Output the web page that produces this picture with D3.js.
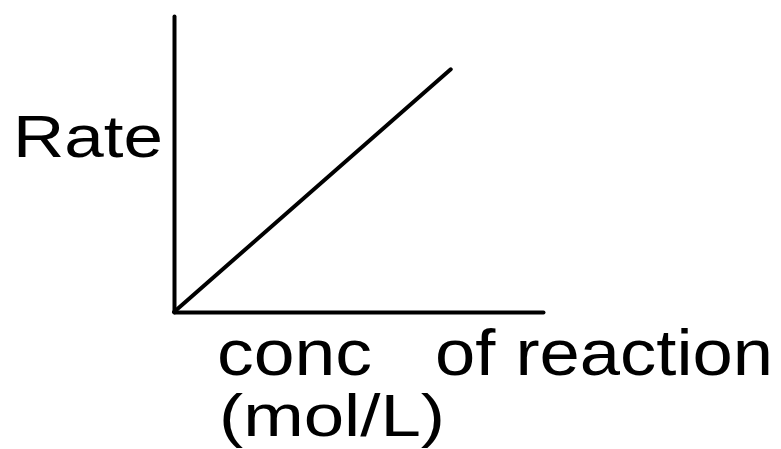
<!DOCTYPE html>
<html>
<head>
<meta charset="utf-8">
<script src="https://cdn.jsdelivr.net/npm/d3@7"></script>
<style>
  html, body { margin: 0; padding: 0; background: #fff; }
  svg { display: block; }
  text { font-family: "Liberation Sans", Arial, sans-serif; fill: #000; }
</style>
</head>
<body>
<svg id="chart" width="781" height="449"></svg>
<script>
// Data
const concValues = [0, 7.5];
const rateValues = [0, 8.2];
const yLabel = "Rate";
const xLabelParts = ["conc", "of reaction", "(mol/L)"];

const svg = d3.select("#chart");
const W = 781, H = 449;
const margin = { left: 174, right: 238, top: 16, bottom: 137 };

const x = d3.scaleLinear().domain([0, 10]).range([margin.left, W - margin.right]);
const y = d3.scaleLinear().domain([0, 10]).range([H - margin.bottom, margin.top]);

// Axes (no ticks)
const xAxis = d3.axisBottom(x).tickValues([]).tickSizeOuter(0);
const yAxis = d3.axisLeft(y).tickValues([]).tickSizeOuter(0);

svg.append("g")
  .attr("transform", `translate(0,${y(0)})`)
  .call(xAxis)
  .call(g => g.select(".domain").attr("stroke", "#000").attr("stroke-width", 4).attr("stroke-linecap", "round"));

svg.append("g")
  .attr("transform", `translate(${x(0)},0)`)
  .call(yAxis)
  .call(g => g.select(".domain").attr("stroke", "#000").attr("stroke-width", 4).attr("stroke-linecap", "round"));

// Line
const pts = concValues.map((c, i) => [c, rateValues[i]]);
svg.append("path")
  .datum(pts)
  .attr("fill", "none")
  .attr("stroke", "#000")
  .attr("stroke-width", 4)
  .attr("stroke-linecap", "round")
  .attr("d", d3.line().x(d => x(d[0])).y(d => y(d[1])));

// Labels
svg.append("text")
  .attr("x", 13).attr("y", 157)
  .attr("font-size", 59)
  .attr("textLength", 150).attr("lengthAdjust", "spacingAndGlyphs")
  .text(yLabel);

svg.append("text")
  .attr("x", 217).attr("y", 375)
  .attr("font-size", 64)
  .attr("textLength", 155).attr("lengthAdjust", "spacingAndGlyphs")
  .text(xLabelParts[0]);

svg.append("text")
  .attr("x", 435).attr("y", 375)
  .attr("font-size", 64)
  .attr("textLength", 338).attr("lengthAdjust", "spacingAndGlyphs")
  .text(xLabelParts[1]);

svg.append("text")
  .attr("x", 219).attr("y", 436)
  .attr("font-size", 60)
  .attr("textLength", 226).attr("lengthAdjust", "spacingAndGlyphs")
  .text(xLabelParts[2]);
</script>
</body>
</html>
